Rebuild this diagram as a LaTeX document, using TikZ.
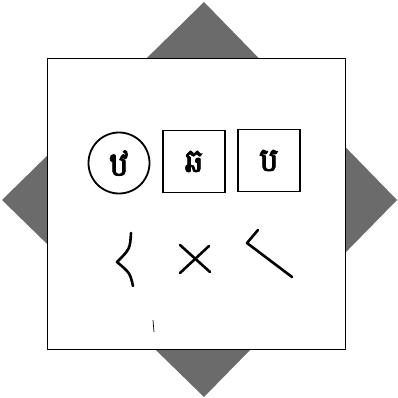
\documentclass[tikz,border=0pt]{standalone}
\usepackage{fontspec}
\newfontfamily\khmerfont[Script=Khmer,FakeBold=2.5]{Battambang}
\begin{document}
\begin{tikzpicture}[x=1pt,y=-1pt,
	glyph/.style={draw, line width=1.8pt, inner sep=0pt, font=\khmerfont\fontsize{33}{35}\selectfont},
	sign/.style={line width=2.6pt, line cap=round, line join=round}]
		\useasboundingbox (0,0) rectangle (398,398);
		% grey diamond behind the card
		\fill[black!58] (204,2) -- (397,200) -- (204,397) -- (2,200) -- cycle;
		\draw[fill=white, line width=0.8pt] (47,58) rectangle (345,349);
		% letters
		\node[glyph, circle, minimum size=61pt] (ttha) at (119,163) {ឋ};
		\node[glyph, rectangle, minimum size=62pt] (chha) at (194,161.5) {ឆ};
		\node[glyph, rectangle, minimum size=62pt] (ba) at (269,160.5) {ប};
		% marks
		\draw[sign] (131,233) .. controls (130,249) .. (117,262) .. controls (130,273) .. (133,286);
		\draw[sign] (180,245) -- (210,272);
		\draw[sign] (209,246) -- (180,273);
		\draw[sign] (258,230) -- (247,243) -- (292,277);
		\draw[line width=0.7pt] (153,320) -- (154,332);
	\end{tikzpicture}
\end{document}
